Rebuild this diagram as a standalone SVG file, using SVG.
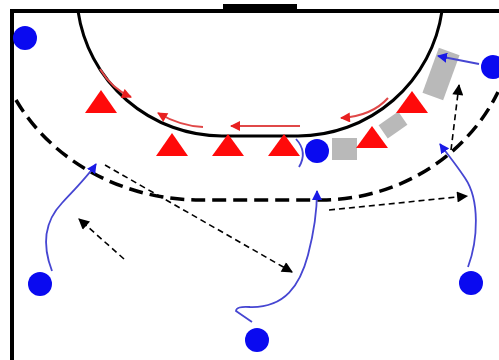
<svg xmlns="http://www.w3.org/2000/svg" width="499" height="360" viewBox="0 0 499 360">
<style>
.court{fill:none;stroke:#000;stroke-width:4}
.area{fill:none;stroke:#000;stroke-width:3}
.nine{fill:none;stroke:#000;stroke-width:3.5;stroke-dasharray:14 7}
.att{fill:#0a0af0}
.def{fill:#ff0a0a}
.block{fill:#b9b9b9}
.run{fill:none;stroke:#4646d2;stroke-width:1.8}
.red{fill:none;stroke:#e04848;stroke-width:2}
.pass{fill:none;stroke:#000;stroke-width:1.6;stroke-dasharray:6 4}
</style>
<defs>
<marker id="ab" viewBox="0 0 10 10" refX="9" refY="5" markerWidth="10" markerHeight="10" markerUnits="userSpaceOnUse" orient="auto"><path d="M0,0 L10,5 L0,10 z" fill="#1a1ae6"/></marker>
<marker id="ar" viewBox="0 0 10 10" refX="9" refY="5" markerWidth="11" markerHeight="10" markerUnits="userSpaceOnUse" orient="auto"><path d="M0,0 L10,5 L0,10 z" fill="#e82020"/></marker>
<marker id="ak" viewBox="0 0 10 10" refX="9" refY="5" markerWidth="12" markerHeight="11" markerUnits="userSpaceOnUse" orient="auto"><path d="M0,0 L10,5 L0,10 z" fill="#000"/></marker>
</defs>
<rect width="499" height="360" fill="#fff"/>
<g id="court">
<path class="court" d="M12,360 L12,11 L499,11"/>
<rect x="223" y="4" width="74" height="8" fill="#000"/>
<path class="area" d="M78,11 A146,146 0 0 0 222,136 L298,136 A146,146 0 0 0 442,11"/>
<path class="nine" d="M16,100 A209,189 0 0 0 200,200 L322,200 A196,189 0 0 0 498,92"/>
</g>
<g id="blocks">
<rect class="block" x="332" y="138" width="25" height="22"/>
<rect class="block" x="-12" y="-8" width="24" height="16" transform="translate(393,125) rotate(-35)"/>
<rect class="block" x="-11" y="-24" width="22" height="48" transform="translate(441,74) rotate(20)"/>
</g>
<g id="connectors">
<path class="red" d="M100,69 Q112,89 131,97" marker-end="url(#ar)"/>
<path class="red" d="M203,127 Q180,126 158,113" marker-end="url(#ar)"/>
<path class="red" d="M300,126 L231,126" marker-end="url(#ar)"/>
<path class="red" d="M388,98 Q372,116 341,118" marker-end="url(#ar)"/>
<path class="run" d="M52,271 C42,245 44,222 62,203 C75,189 88,176 96,164" marker-end="url(#ab)"/>
<path class="run" d="M252,322 L236,311 Q236,306 250,307 C285,308 300,285 308,255 C314,232 317,212 317,191" marker-end="url(#ab)"/>
<path class="run" d="M468,267 C478,240 480,200 465,178 C455,163 448,155 440,144" marker-end="url(#ab)"/>
<path class="run" d="M479,64 L438,56" marker-end="url(#ab)"/>
<path class="run" d="M296,139 Q308,152 299,167" stroke-width="1.2"/>
<path class="pass" d="M124,259 L79,219" marker-end="url(#ak)"/>
<path class="pass" d="M105,165 L292,272" marker-end="url(#ak)"/>
<path class="pass" d="M329,210 L467,196" marker-end="url(#ak)"/>
<path class="pass" d="M451,150 L459,85" marker-end="url(#ak)"/>
</g>
<g id="defender-1"><polygon class="def" points="101,90 117,113 85,113"/></g>
<g id="defender-2"><polygon class="def" points="172,133 188,156 156,156"/></g>
<g id="defender-3"><polygon class="def" points="228,134 244,156 212,156"/></g>
<g id="defender-4"><polygon class="def" points="284,134 300,156 268,156"/></g>
<g id="defender-5"><polygon class="def" points="372,126 388,148 356,148"/></g>
<g id="defender-6"><polygon class="def" points="412,91 428,113 396,113"/></g>
<g id="attacker-1"><circle class="att" cx="25" cy="38" r="12"/></g>
<g id="attacker-2"><circle class="att" cx="493" cy="67" r="12"/></g>
<g id="attacker-3"><circle class="att" cx="317" cy="151" r="12"/></g>
<g id="attacker-4"><circle class="att" cx="40" cy="284" r="12"/></g>
<g id="attacker-5"><circle class="att" cx="257" cy="340" r="12"/></g>
<g id="attacker-6"><circle class="att" cx="471" cy="283" r="12"/></g>
</svg>
